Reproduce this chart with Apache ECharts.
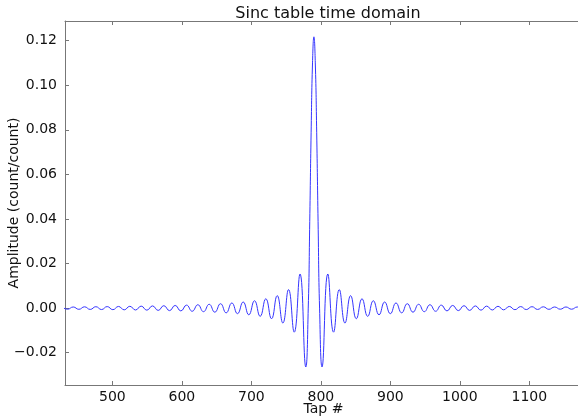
<!DOCTYPE html>
<html>
<head>
<meta charset="utf-8">
<script src="https://cdn.jsdelivr.net/npm/echarts@6/dist/echarts.min.js"></script>
<style>
  html, body { margin: 0; padding: 0; background: #fff; }
  #chart { width: 578px; height: 417px; }
</style>
</head>
<body>
<div id="chart"></div>
<script>
// tap positions of the points (lobe extrema + main lobe)
var taps = [
    427.3, 435.5, 443.6, 451.8, 459.9, 468.1, 476.2, 484.4, 492.5, 500.7,
    508.8, 517.0, 525.1, 533.3, 541.4, 549.6, 557.7, 565.9, 574.0, 582.2,
    590.3, 598.5, 606.7, 614.8, 623.0, 631.1, 639.3, 647.4, 655.6, 663.7,
    671.9, 680.0, 688.2, 696.3, 704.5, 712.6, 720.8, 729.0, 737.1, 745.3,
    753.5, 761.7, 770.0, 778.3,
    781.85, 784, 786, 788, 790, 792, 794, 796, 798.15,
    801.7, 810.0, 818.3, 826.5, 834.7, 842.9, 851.0, 859.2, 867.4, 875.5,
    883.7, 891.8, 900.0, 908.1, 916.3, 924.4, 932.6, 940.7, 948.9, 957.0,
    965.2, 973.3, 981.5, 989.7, 997.8, 1006.0, 1014.1, 1022.3, 1030.4, 1038.6,
    1046.7, 1054.9, 1063.0, 1071.2, 1079.3, 1087.5, 1095.6, 1103.8, 1111.9, 1120.1,
    1128.2, 1136.4, 1144.5, 1152.7, 1160.8, 1169.0, 1177.1
];
// amplitude (count/count) at each of those taps
var amplitude = [
    0.0005, -0.0005, 0.0005, -0.00055, 0.00058, -0.0006, 0.00063, -0.00065, 0.00068, -0.00071,
    0.00074, -0.00078, 0.00081, -0.00085, 0.00089, -0.00093, 0.00098, -0.00103, 0.00108, -0.00114,
    0.0012, -0.00127, 0.00134, -0.00142, 0.00151, -0.00161, 0.00171, -0.00183, 0.00197, -0.00213,
    0.0023, -0.0025, 0.00273, -0.003, 0.0033, -0.0037, 0.0042, -0.0048, 0.0056, -0.0067,
    0.0083, -0.0108, 0.0153, -0.0264,
    0, 0.0388, 0.0789, 0.110, 0.1217, 0.110, 0.0789, 0.0388, 0,
    -0.0264, 0.0153, -0.0108, 0.0083, -0.0067, 0.0056, -0.0048, 0.0042, -0.0037, 0.0033,
    -0.003, 0.00273, -0.0025, 0.0023, -0.00213, 0.00197, -0.00183, 0.00171, -0.00161, 0.00151,
    -0.00142, 0.00134, -0.00127, 0.0012, -0.00114, 0.00108, -0.00103, 0.00098, -0.00093, 0.00089,
    -0.00085, 0.00081, -0.00078, 0.00074, -0.00071, 0.00068, -0.00065, 0.00063, -0.0006, 0.00058,
    -0.00055, 0.0005, -0.0005, 0.0005, -0.0005, 0.0005, -0.0005
];
var xTicks = [500, 600, 700, 800, 900, 1000, 1100];
var yTicks = [-0.02, 0.00, 0.02, 0.04, 0.06, 0.08, 0.10, 0.12];

var chart = echarts.init(document.getElementById('chart'));

var seriesData = [];
for (var i = 0; i < taps.length; i++) {
    seriesData.push([taps[i], amplitude[i]]);
}

var font = 'DejaVu Sans';
var frameColor = '#777';

chart.setOption({
    animation: false,
    title: {
        text: 'Sinc table time domain',
        left: 323, top: 1,
        textAlign: 'center',
        textStyle: { fontFamily: font, fontSize: 16, fontWeight: 'normal', color: '#111' }
    },
    grid: { left: 65, top: 21, width: 517, height: 364, outerBoundsMode: 'none', containLabel: false },
    xAxis: [
        {
            type: 'value',
            min: 431.8,
            max: 1175.8,
            name: 'Tap #',
            nameLocation: 'middle',
            nameGap: 17,
            nameMoveOverlap: false,
            nameTextStyle: { fontFamily: font, fontSize: 14, color: '#111' },
            axisLine: { onZero: false, lineStyle: { color: frameColor, width: 1 } },
            axisTick: { inside: true, length: 4, customValues: xTicks, lineStyle: { color: frameColor } },
            axisLabel: {
                customValues: xTicks, margin: 5,
                fontFamily: font, fontSize: 14, color: '#111',
                formatter: function (v) { return String(v); }
            },
            splitLine: { show: false }
        },
        {
            type: 'value',
            position: 'top',
            min: 431.8,
            max: 1175.8,
            axisLine: { onZero: false, lineStyle: { color: frameColor, width: 1 } },
            axisTick: { inside: true, length: 4, customValues: xTicks, lineStyle: { color: frameColor } },
            axisLabel: { show: false },
            splitLine: { show: false }
        }
    ],
    yAxis: {
        type: 'value',
        min: -0.0345,
        max: 0.1288,
        name: 'Amplitude (count/count)',
        nameLocation: 'middle',
        nameGap: 44,
        nameMoveOverlap: false,
        nameTextStyle: { fontFamily: font, fontSize: 14, color: '#111' },
        axisLine: { show: true, onZero: false, lineStyle: { color: frameColor, width: 1 } },
        axisTick: { show: true, inside: true, length: 4, customValues: yTicks, lineStyle: { color: frameColor } },
        axisLabel: {
            customValues: yTicks, margin: 8,
            fontFamily: font, fontSize: 14, color: '#111',
            formatter: function (v) { return v.toFixed(2).replace('-', '\u2212'); }
        },
        splitLine: { show: false }
    },
    series: [{
        type: 'line',
        data: seriesData,
        smooth: 0.5,
        symbol: 'none',
        clip: true,
        lineStyle: { color: '#3535ff', width: 1 }
    }]
});
</script>
</body>
</html>
